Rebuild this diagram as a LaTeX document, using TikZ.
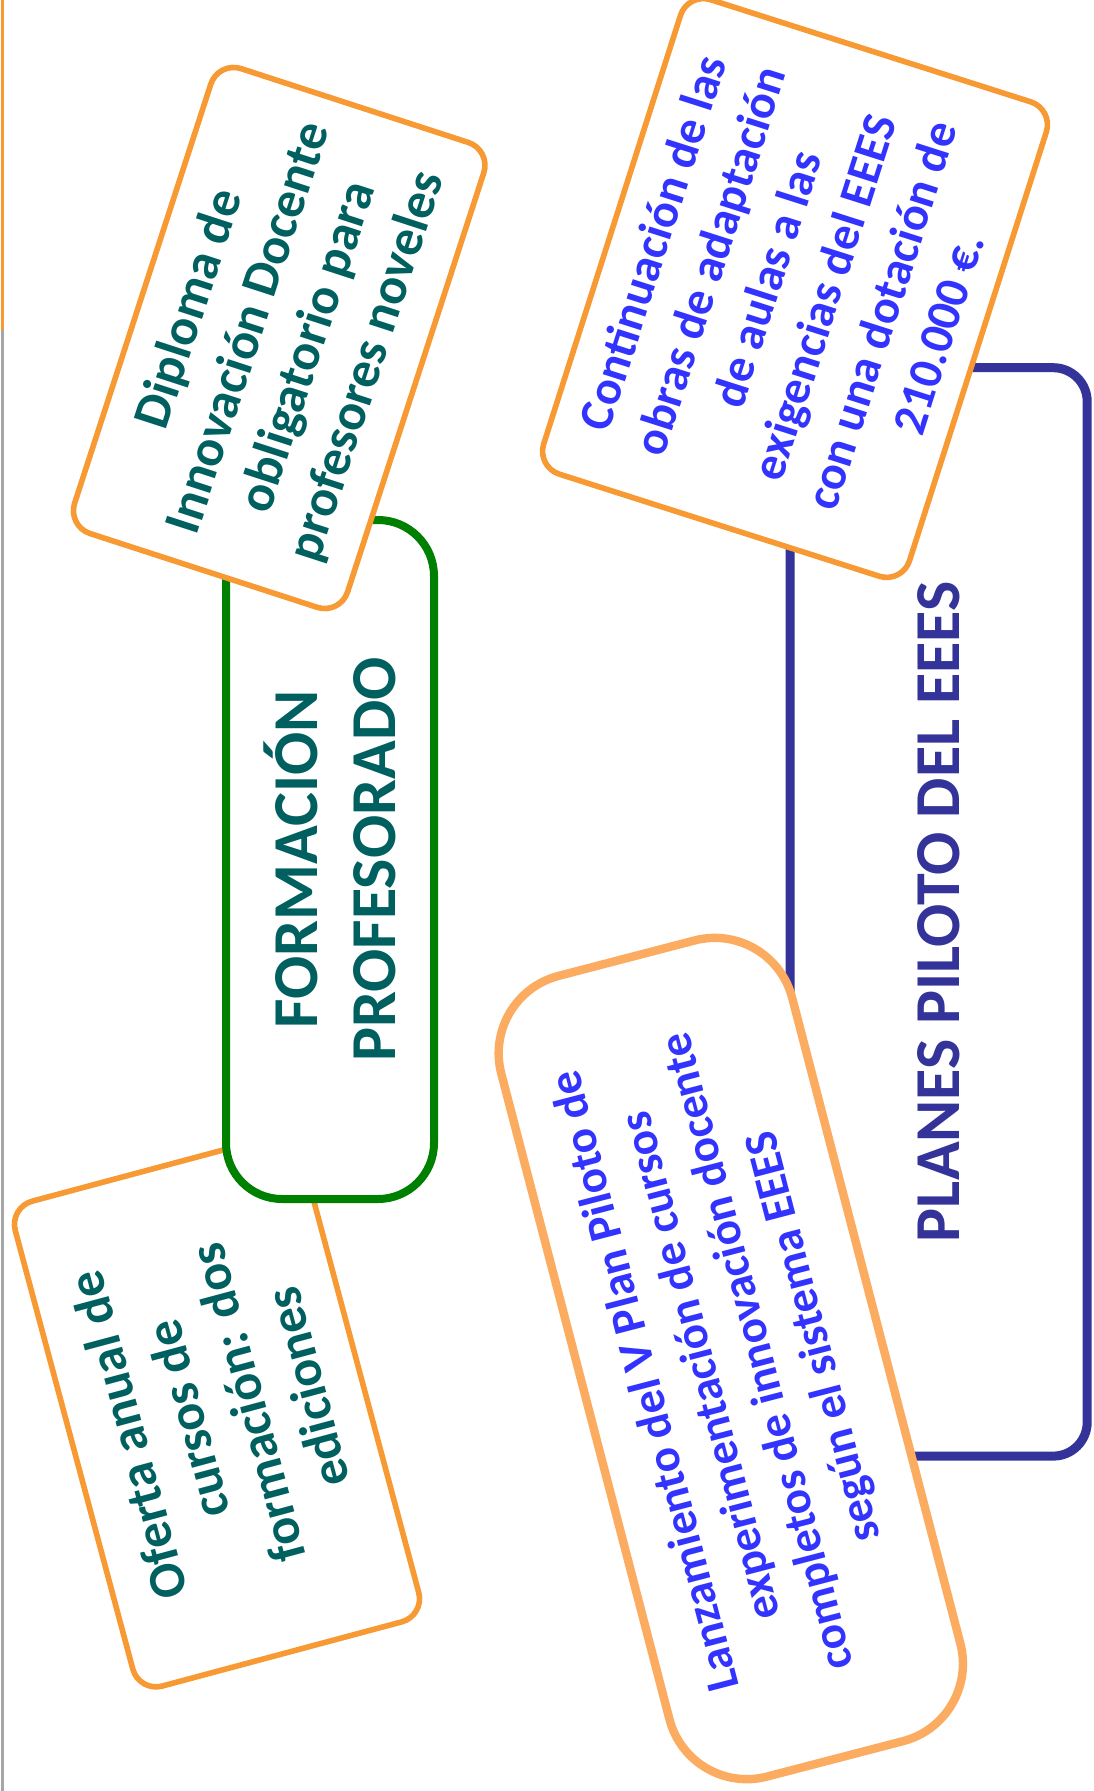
\documentclass[tikz,border=0pt]{standalone}
\usepackage{fontspec}
\setmainfont{Carlito}
\definecolor{cardorange}{RGB}{247,154,52}
\definecolor{lightorange}{RGB}{252,172,96}
\definecolor{framegreen}{RGB}{0,128,0}
\definecolor{frameblue}{RGB}{51,51,153}
\definecolor{tealtext}{RGB}{0,96,96}
\definecolor{bluetext}{RGB}{51,51,255}
\tikzset{
  card/.style={draw=cardorange, line width=2.8pt, fill=white, rounded corners=12pt,
    inner sep=0pt, align=center, font=\bfseries\fontsize{26}{31}\selectfont},
  bigcard/.style={draw=lightorange, line width=4.2pt, fill=white, rounded corners=40pt,
    inner sep=0pt, align=center, text=bluetext, font=\bfseries\fontsize{23.5}{29}\selectfont},
  titlebox/.style={line width=4pt, fill=white, inner sep=0pt, align=center,
    font=\bfseries\fontsize{32}{39}\selectfont}
}
\begin{document}
\begin{tikzpicture}[x=0.5pt,y=-0.5pt]
\useasboundingbox (0,0) rectangle (1093,1791);
\fill[white] (0,0) rectangle (1093,1791);
% page edge line
\draw[gray!70, line width=1.5pt] (2.5,0) -- (2.5,1791);
\draw[cardorange, line width=1.5pt] (2.5,0) -- (2.5,330);

% left group
\node[card, text=tealtext, rotate=105, minimum width=251pt, minimum height=148pt]
  (oferta) at (217,1411.5) {Oferta anual de\\cursos de\\formación: dos\\ediciones};
\node[titlebox, draw=framegreen, rounded corners=28pt, rotate=90,
  minimum width=339.5pt, minimum height=104pt, text=tealtext]
  (formacion) at (330,859.5) {FORMACIÓN\\PROFESORADO};
\node[card, text=tealtext, rotate=72, minimum width=244.4pt, minimum height=143.5pt]
  (diploma) at (279.2,338) {Diploma de\\Innovación Docente\\obligatorio para\\profesores noveles};

% right group
\node[titlebox, draw=frameblue, line width=4.5pt, rounded corners=17pt, rotate=90,
  minimum width=544.2pt, minimum height=148.5pt, text=frameblue]
  (planes) at (938.7,911.9) {PLANES PILOTO DEL EEES};
\node[card, text=bluetext, rotate=72.3, minimum width=249pt, minimum height=192pt,
  font=\bfseries\fontsize{24}{30}\selectfont]
  (obras) at (795,288) {Continuación de las\\obras de adaptación\\de aulas a las\\exigencias del EEES\\con una dotación de\\210.000 €.};
\node[bigcard, rotate=104.6, minimum width=413.7pt, minimum height=150.3pt]
  (lanzamiento) at (730.8,1358.5) {Lanzamiento del V Plan Piloto de\\experimentación de cursos\\completos de innovación docente\\según el sistema EEES};
\end{tikzpicture}
\end{document}
